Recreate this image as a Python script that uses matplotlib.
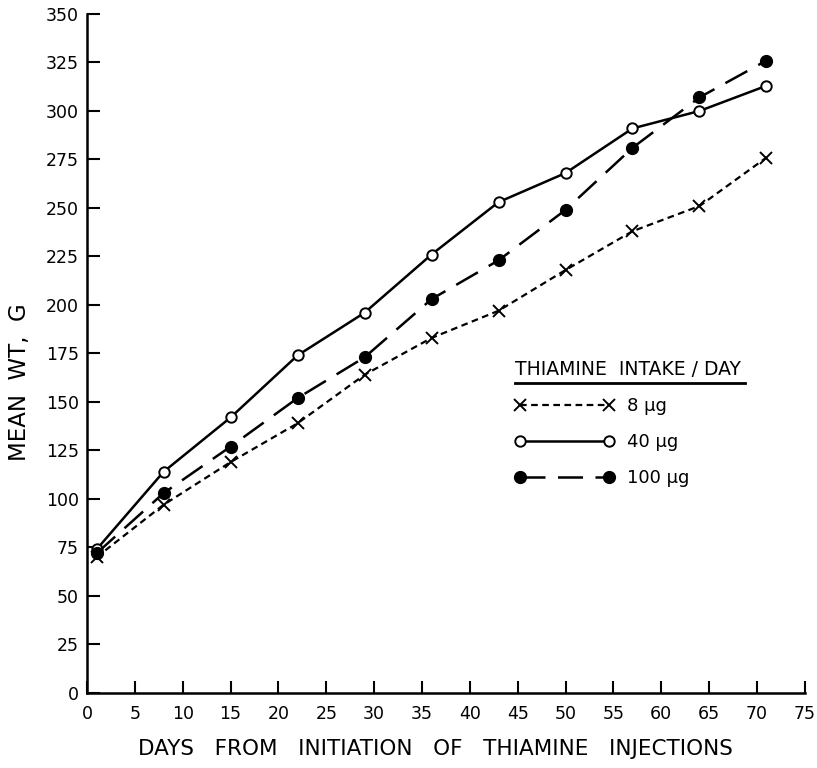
import matplotlib
matplotlib.use("Agg")
import matplotlib.pyplot as plt
from matplotlib.lines import Line2D

# mean body weight (g) by day of thiamine injections
days = [1, 8, 15, 22, 29, 36, 43, 50, 57, 64, 71]
wt_8ug = [70, 97, 119, 139, 164, 183, 197, 218, 238, 251, 276]
wt_40ug = [74, 114, 142, 174, 196, 226, 253, 268, 291, 300, 313]
wt_100ug = [72, 103, 127, 152, 173, 203, 223, 249, 281, 307, 326]

x_ticks = list(range(0, 80, 5))
y_ticks = list(range(0, 375, 25))

plt.rcParams["font.family"] = "DejaVu Sans"

fig = plt.figure(figsize=(8.17, 7.68), dpi=100)
ax = fig.add_axes([0.1065, 0.0977, 0.8785, 0.8841])

ax.plot(days, wt_8ug, color="black", lw=1.6, dashes=(3, 2),
        marker="x", ms=8.5, mew=1.4, label="8 µg")
ax.plot(days, wt_40ug, color="black", lw=1.8, ls="-",
        marker="o", ms=7.5, mfc="white", mec="black", mew=1.4, label="40 µg")
ax.plot(days, wt_100ug, color="black", lw=1.8, dashes=(10, 5),
        marker="o", ms=8.5, mfc="black", mec="black", label="100 µg")

ax.set_xlim(0, 75)
ax.set_ylim(0, 350)
ax.set_xticks(x_ticks)
ax.set_yticks(y_ticks)
ax.tick_params(direction="in", length=9, width=1.5, labelsize=12.5, pad=6)
ax.tick_params(axis="x", pad=9)
for side in ("top", "right"):
    ax.spines[side].set_visible(False)
for side in ("left", "bottom"):
    ax.spines[side].set_linewidth(1.8)

ax.set_xlabel("DAYS   FROM   INITIATION   OF   THIAMINE   INJECTIONS", fontsize=15.5)
ax.xaxis.set_label_coords(0.485, -0.068)
ax.set_ylabel("MEAN  WT,  G", fontsize=16.5)
ax.yaxis.set_label_coords(-0.078, 0.458)

leg = ax.legend(loc="upper left", bbox_to_anchor=(0.596, 0.49), frameon=False,
                numpoints=2, handlelength=5.5, handletextpad=0.7,
                labelspacing=1.0, borderpad=0, borderaxespad=0,
                fontsize=13, title="THIAMINE  INTAKE / DAY",
                title_fontsize=13.5, alignment="left")

# underline the legend heading
fig.canvas.draw()
bb = leg.get_title().get_window_extent().transformed(fig.transFigure.inverted())
fig.add_artist(Line2D([bb.x0, bb.x1 + 0.005], [bb.y0 - 0.005, bb.y0 - 0.005],
                      transform=fig.transFigure, color="black", lw=2))

fig.savefig("out.png", dpi=100)
